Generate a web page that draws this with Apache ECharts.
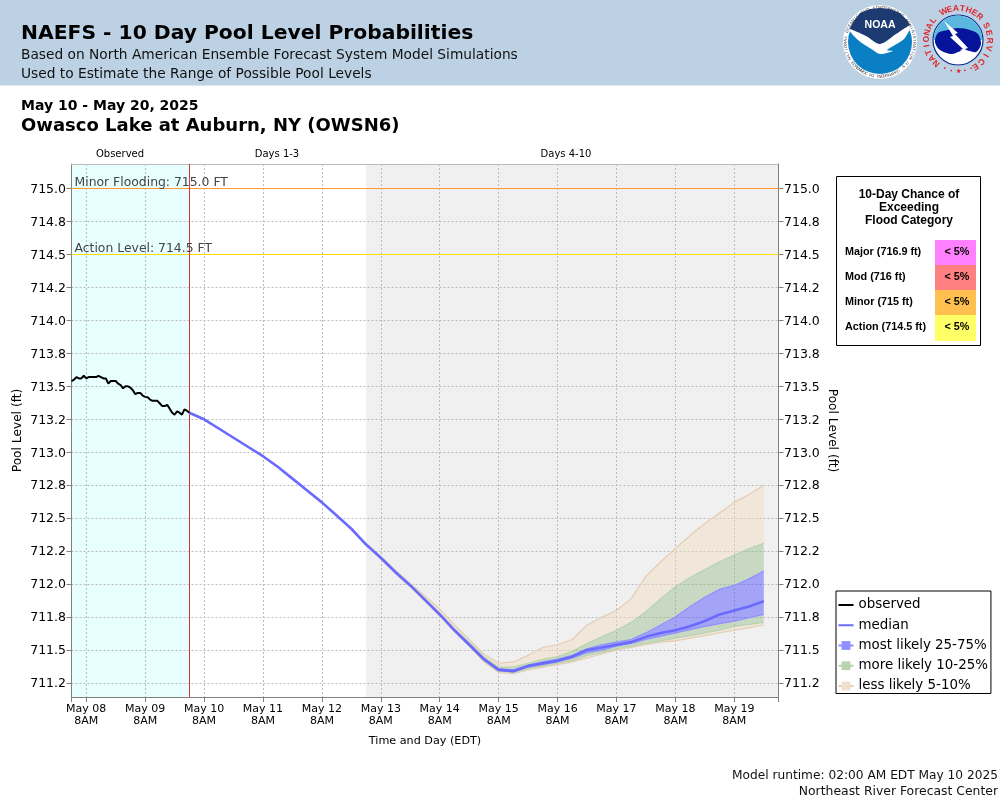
<!DOCTYPE html>
<html>
<head>
<meta charset="utf-8">
<title>NAEFS Pool Level Probabilities</title>
<script src="https://cdn.jsdelivr.net/npm/echarts@6/dist/echarts.min.js"></script>
<style>
html,body{margin:0;padding:0;background:#fff}
#main{width:1000px;height:800px}
</style>
</head>
<body>
<div id="main"></div>
<script>
// hours below are counted from May 08 8AM. The axis clock is shifted so that
// 8AM EDT falls on a UTC midnight and the daily time ticks land on 8AM.
var baseTime = Date.UTC(2025, 4, 8, 0);
var xMin = -6, xMax = 282;
var forecastStart = 42, daysFourStart = 114;
var xTickHours = [0, 24, 48, 72, 96, 120, 144, 168, 192, 216, 240, 264];
var xTickLabels = ['May 08\n8AM', 'May 09\n8AM', 'May 10\n8AM', 'May 11\n8AM', 'May 12\n8AM', 'May 13\n8AM',
	'May 14\n8AM', 'May 15\n8AM', 'May 16\n8AM', 'May 17\n8AM', 'May 18\n8AM', 'May 19\n8AM'];
var yMin = 711.144, yMax = 715.186;
var yTickValues = [711.25, 711.5, 711.75, 712, 712.25, 712.5, 712.75, 713, 713.25, 713.5, 713.75, 714, 714.25, 714.5, 714.75, 715];
var yTickLabels = ['711.2', '711.5', '711.8', '712.0', '712.2', '712.5', '712.8', '713.0', '713.2', '713.5', '713.8', '714.0', '714.2', '714.5', '714.8', '715.0'];
var minorLevel = 715, actionLevel = 714.5;

var obsHours = [-6, -5, -4, -3, -2, -1, 0, 1, 2, 3, 4, 5, 6, 7, 8, 9, 10, 11, 12, 13, 14, 15, 16, 17, 18, 19, 20, 21, 22, 23, 24,
	25, 26, 27, 28, 29, 30, 31, 32, 33, 34, 35, 36, 37, 38, 39, 40, 41, 42];
var observed = [713.54, 713.55, 713.57, 713.56, 713.56, 713.58, 713.56, 713.57, 713.57, 713.57, 713.57, 713.58, 713.57, 713.56, 713.56, 713.52,
	713.54, 713.54, 713.54, 713.52, 713.51, 713.485, 713.50, 713.50, 713.49, 713.47, 713.44, 713.45, 713.45, 713.43, 713.42, 713.417,
	713.40, 713.39, 713.39, 713.39, 713.37, 713.35, 713.35, 713.36, 713.33, 713.30, 713.285, 713.31, 713.30, 713.285, 713.325, 713.315, 713.30];

var fcstHours = [42, 48, 54, 60, 66, 72, 78, 84, 90, 96, 102, 108, 114, 120, 126, 132, 138, 144, 150, 156, 162, 168, 174, 180, 186, 192,
	198, 204, 210, 216, 222, 228, 234, 240, 246, 252, 258, 264, 270, 276];
var median = [713.30, 713.25, 713.18, 713.11, 713.04, 712.97, 712.89, 712.80, 712.71, 712.62, 712.52, 712.42, 712.30, 712.20, 712.09, 711.99, 711.88, 711.77, 711.65, 711.54,
	711.43, 711.35, 711.34, 711.38, 711.40, 711.42, 711.45, 711.50, 711.52, 711.54, 711.56, 711.60, 711.63, 711.65, 711.68, 711.72, 711.77, 711.80, 711.83, 711.87];
var p5 = [713.30, 713.25, 713.18, 713.11, 713.04, 712.97, 712.89, 712.80, 712.71, 712.62, 712.52, 712.42, 712.30, 712.19, 712.08, 711.98, 711.87, 711.76, 711.64, 711.53,
	711.41, 711.33, 711.32, 711.35, 711.37, 711.39, 711.41, 711.44, 711.47, 711.50, 711.52, 711.54, 711.56, 711.57, 711.59, 711.61, 711.63, 711.65, 711.67, 711.69];
var p10 = [713.30, 713.25, 713.18, 713.11, 713.04, 712.97, 712.89, 712.80, 712.71, 712.62, 712.52, 712.42, 712.30, 712.195, 712.085, 711.985, 711.875, 711.765, 711.645, 711.535,
	711.42, 711.34, 711.33, 711.36, 711.38, 711.40, 711.42, 711.46, 711.48, 711.51, 711.53, 711.55, 711.57, 711.59, 711.61, 711.63, 711.65, 711.68, 711.695, 711.71];
var p25 = [713.30, 713.25, 713.18, 713.11, 713.04, 712.97, 712.89, 712.80, 712.71, 712.62, 712.52, 712.42, 712.30, 712.20, 712.09, 711.99, 711.88, 711.77, 711.65, 711.54,
	711.43, 711.345, 711.335, 711.37, 711.39, 711.41, 711.44, 711.48, 711.50, 711.53, 711.55, 711.58, 711.605, 711.63, 711.655, 711.68, 711.70, 711.72, 711.745, 711.77];
var p75 = [713.30, 713.25, 713.18, 713.11, 713.04, 712.97, 712.89, 712.80, 712.71, 712.62, 712.52, 712.42, 712.30, 712.20, 712.09, 711.99, 711.88, 711.77, 711.65, 711.55,
	711.44, 711.36, 711.35, 711.385, 711.41, 711.43, 711.46, 711.51, 711.54, 711.56, 711.58, 711.63, 711.69, 711.75, 711.83, 711.90, 711.96, 711.99, 712.04, 712.10];
var p90 = [713.30, 713.25, 713.18, 713.11, 713.04, 712.97, 712.89, 712.80, 712.71, 712.62, 712.52, 712.42, 712.30, 712.205, 712.095, 711.995, 711.89, 711.78, 711.66, 711.56,
	711.45, 711.37, 711.37, 711.40, 711.43, 711.45, 711.49, 711.55, 711.60, 711.65, 711.71, 711.79, 711.89, 711.98, 712.05, 712.11, 712.17, 712.22, 712.27, 712.31];
var p95 = [713.30, 713.25, 713.18, 713.11, 713.04, 712.97, 712.89, 712.80, 712.71, 712.62, 712.52, 712.42, 712.31, 712.21, 712.105, 712.005, 711.91, 711.81, 711.69, 711.58,
	711.47, 711.40, 711.41, 711.46, 711.52, 711.54, 711.58, 711.69, 711.75, 711.80, 711.89, 712.06, 712.17, 712.27, 712.37, 712.46, 712.54, 712.62, 712.68, 712.75];

var chanceTitle = ['10-Day Chance of', 'Exceeding', 'Flood Category'];
var chanceRows = ['Major (716.9 ft)', 'Mod (716 ft)', 'Minor (715 ft)', 'Action (714.5 ft)'];
var chanceValues = ['< 5%', '< 5%', '< 5%', '< 5%'];
var chanceColors = ['#ff80ff', '#ff8080', '#ffc050', '#ffff66'];

var FONT = '"DejaVu Sans"';
var ARIAL = '"Liberation Sans"';
var TAN = 'rgba(240,215,185,0.4)', GREEN = 'rgba(130,175,120,0.37)', BLUE = 'rgba(70,70,255,0.45)';
var TAN_LINE = '#e3cdb4', GREEN_LINE = '#b9d3ae', BLUE_LINE = '#8f8fff';

function ms(h) {
	return baseTime + h * 3600000;
}
function pairs(xs, ys) {
	return xs.map(function (x, i) { return [ms(x), ys[i]]; });
}
// thickness of a band between two percentile lines
function diff(upper, lower) {
	return fcstHours.map(function (x, i) { return [ms(x), Math.max(0, +(upper[i] - lower[i]).toFixed(3))]; });
}
function bandSeries(name, data, fill, line) {
	return {
		name: name, type: 'line', stack: 'bands', data: data, symbol: 'rect', showSymbol: false, silent: true,
		z: 3, lineStyle: { color: line, width: 1.2 }, itemStyle: { color: line },
		areaStyle: fill ? { color: fill, opacity: 1 } : undefined
	};
}

var LESS = 'less likely 5-10%', MORE = 'more likely 10-25%', MOST = 'most likely 25-75%';
var series = [
	{
		// only carries the shaded day ranges
		name: 'shade', type: 'line', data: [], silent: true,
		markArea: {
			silent: true, z: -1,
			data: [
				[{ xAxis: ms(xMin), itemStyle: { color: '#e8ffff' } }, { xAxis: ms(forecastStart) }],
				[{ xAxis: ms(daysFourStart), itemStyle: { color: '#f0f0f0' } }, { xAxis: ms(xMax) }]
			]
		}
	},
	bandSeries(LESS, pairs(fcstHours, p5), null, TAN_LINE),
	bandSeries(LESS, diff(p10, p5), TAN, GREEN_LINE),
	bandSeries(MORE, diff(p25, p10), GREEN, BLUE_LINE),
	bandSeries(MOST, diff(p75, p25), BLUE, BLUE_LINE),
	bandSeries(MORE, diff(p90, p75), GREEN, GREEN_LINE),
	bandSeries(LESS, diff(p95, p90), TAN, TAN_LINE),
	{
		name: 'median', type: 'line', data: pairs(fcstHours, median), symbol: 'none', silent: true, z: 5,
		lineStyle: { color: '#6a6aff', width: 2.6 }, itemStyle: { color: '#6a6aff' }
	},
	{
		name: 'observed', type: 'line', data: pairs(obsHours, observed), symbol: 'none', silent: true, z: 6,
		lineStyle: { color: '#000', width: 2 }, itemStyle: { color: '#000' },
		markLine: {
			silent: true, symbol: 'none', animation: false,
			data: [
				{ yAxis: minorLevel, lineStyle: { color: '#ff9a2e', width: 1, type: 'solid' },
					label: { formatter: 'Minor Flooding: 715.0 FT', position: 'insideStartTop', distance: [3, 0], color: '#444', fontFamily: FONT, fontSize: 12.4 } },
				{ yAxis: actionLevel, lineStyle: { color: '#ffdd00', width: 1, type: 'solid' },
					label: { formatter: 'Action Level: 714.5 FT', position: 'insideStartTop', distance: [3, 0], color: '#444', fontFamily: FONT, fontSize: 12.4 } },
				{ xAxis: ms(forecastStart), lineStyle: { color: '#d9333a', width: 1, type: 'solid' }, label: { show: false } }
			]
		}
	}
];

// ---- page furniture ----
var graphics = [];
function txt(x, y, text, font, size, opt) {
	opt = opt || {};
	graphics.push({
		type: 'text', x: x, y: y, z: 20, rotation: opt.rotation || 0, silent: true,
		style: {
			text: text, x: 0, y: 0, fill: opt.color || '#000', font: (opt.bold ? 'bold ' : '') + size + 'px ' + font,
			align: opt.align || 'left', verticalAlign: 'middle'
		}
	});
}
function circle(cx, cy, r, fill, stroke, lw) {
	graphics.push({ type: 'circle', z: 15, silent: true, shape: { cx: cx, cy: cy, r: r }, style: { fill: fill, stroke: stroke || null, lineWidth: lw || 0 } });
}
function poly(points, fill, smooth) {
	graphics.push({ type: 'polygon', z: 16, silent: true, shape: { points: points, smooth: smooth || 0 }, style: { fill: fill } });
}
function ring(text, cx, cy, r, a0, a1, size, color, bold, flip) {
	// a0 and a1 are clock angles in degrees for the first and last letter
	for (var i = 0; i < text.length; i++) {
		var a = a0 + (a1 - a0) * i / (text.length - 1), rad = a * Math.PI / 180;
		txt(cx + r * Math.sin(rad), cy - r * Math.cos(rad), text[i], ARIAL, size, {
			rotation: -(flip ? rad - Math.PI : rad), align: 'center', color: color, bold: bold
		});
	}
}

graphics.push({ type: 'rect', z: 10, silent: true, shape: { x: 0, y: 0, width: 1000, height: 85.5 }, style: { fill: '#bcd2e4' } });
txt(21, 33.5, 'NAEFS - 10 Day Pool Level Probabilities', FONT, 20.3, { bold: true });
txt(21, 55, 'Based on North American Ensemble Forecast System Model Simulations', FONT, 13.75, { color: '#111' });
txt(21, 74, 'Used to Estimate the Range of Possible Pool Levels', FONT, 13.75, { color: '#111' });
txt(21, 106, 'May 10 - May 20, 2025', FONT, 14, { bold: true });
txt(21, 126, 'Owasco Lake at Auburn, NY (OWSN6)', FONT, 18, { bold: true });
txt(120, 154.5, 'Observed', FONT, 10, { align: 'center' });
txt(277, 154.5, 'Days 1-3', FONT, 10, { align: 'center' });
txt(566, 154.5, 'Days 4-10', FONT, 10, { align: 'center' });
txt(998, 776, 'Model runtime: 02:00 AM EDT May 10 2025', FONT, 12.2, { align: 'right', color: '#111' });
txt(998, 792, 'Northeast River Forecast Center', FONT, 12.4, { align: 'right', color: '#111' });
// light top border of the plot
graphics.push({ type: 'line', z: 4, silent: true, shape: { x1: 71, y1: 164.5, x2: 778, y2: 164.5 }, style: { stroke: '#bbb', lineWidth: 1 } });

// NOAA mark
var nx = 880, ny = 42;
circle(nx, ny, 37, '#fff');
ring('NATIONAL OCEANIC AND ATMOSPHERIC ADMINISTRATION', nx, ny, 34.5, -118, 118, 4, '#334', false);
ring('U.S. DEPARTMENT OF COMMERCE', nx, ny, 34.5, 128, 232, 4, '#334', false, true);
circle(nx, ny, 32, '#0a7fc4');
var navyEdge = [[849, 30], [853, 22], [860, 13], [870, 9], [880, 8], [890, 9], [900, 13], [907, 20], [911, 27], [896, 35], [880, 45], [866, 37]];
poly(navyEdge, '#1d3a73');
poly([[849, 29], [866, 36], [880, 44], [896, 34], [911, 25], [904, 39], [887, 50], [893, 51], [880, 54], [873, 50], [858, 40]], '#fff', 0.3);
txt(nx, 25, 'NOAA', ARIAL, 10.5, { bold: true, align: 'center', color: '#fff' });

// NWS mark
var wx = 958, wy = 40;
ring('NATIONAL', wx, wy, 31.5, -137, -52, 8.5, '#e0252b', true);
ring('WEATHER', wx, wy, 31.5, -27, 43, 8.5, '#e0252b', true);
ring('SERVICE', wx, wy, 31.5, 63, 147, 8.5, '#e0252b', true);
ring('\u2022\u2022\u2605\u2022\u2022', wx, wy, 31.5, 205, 155, 6, '#e0252b', true, true);
circle(wx, wy, 25, '#fff', '#0a2a8c', 1.2);
graphics.push({ type: 'sector', z: 15, silent: true, shape: { cx: wx, cy: wy, r: 24.4, startAngle: Math.PI, endAngle: 2 * Math.PI }, style: { fill: '#5cb7de' } });
poly([[935, 42], [938, 33], [948, 30], [958, 28], [970, 30], [978, 34], [981, 44], [976, 52], [964, 50], [952, 54], [940, 50]], '#06149c', 0.3);
poly([[944, 21], [958, 33], [955, 34], [968, 48], [965, 49], [975, 58], [960, 50], [963, 49], [950, 37], [953, 36]], '#fff');

// chance table
graphics.push({ type: 'rect', z: 15, silent: true, shape: { x: 836.5, y: 176.5, width: 144, height: 169 }, style: { fill: '#fff', stroke: '#000', lineWidth: 1 } });
chanceTitle.forEach(function (line, i) {
	txt(909, 195 + i * 13, line, ARIAL, 12, { bold: true, align: 'center' });
});
chanceRows.forEach(function (label, i) {
	var top = 240 + i * 25;
	graphics.push({ type: 'rect', z: 16, silent: true, shape: { x: 935, y: top, width: 41, height: i === 3 ? 26 : 25 }, style: { fill: chanceColors[i] } });
	txt(845, top + 12, label, ARIAL, 10.8, { bold: true });
	txt(957, top + 12, chanceValues[i], ARIAL, 10.8, { bold: true, align: 'center' });
});

var myChart = echarts.init(document.getElementById('main'), null, { renderer: 'canvas' });
var option = {
	animation: false,
	useUTC: true,
	backgroundColor: '#fff',
	grid: { left: 71.5, top: 164, width: 707, height: 533, show: false, outerBoundsMode: 'none' },
	legend: {
		orient: 'vertical', left: 836, top: 591, padding: [7.5, 3, 1, 1.5], itemGap: 7.25, itemWidth: 15, itemHeight: 11,
		backgroundColor: '#fff', borderColor: '#000', borderWidth: 1, borderRadius: 0, selectedMode: false,
		textStyle: { fontFamily: FONT, fontSize: 13.4, color: '#000' },
		data: [
			{ name: 'observed', lineStyle: { width: 2 }, itemStyle: { opacity: 0 } },
			{ name: 'median', lineStyle: { width: 2 }, itemStyle: { opacity: 0 } },
			{ name: MOST, lineStyle: { color: BLUE_LINE, width: 2 }, itemStyle: { color: '#8f8fff' } },
			{ name: MORE, lineStyle: { color: GREEN_LINE, width: 2 }, itemStyle: { color: '#b9d3ae' } },
			{ name: LESS, lineStyle: { color: TAN_LINE, width: 2 }, itemStyle: { color: '#efdfcd' } }
		]
	},
	xAxis: {
		type: 'time', min: ms(xMin), max: ms(xMax), minInterval: 86400000, maxInterval: 86400000,
		name: 'Time and Day (EDT)', nameLocation: 'middle', nameGap: 39, nameMoveOverlap: false,
		nameTextStyle: { fontFamily: FONT, fontSize: 11.2, color: '#000' },
		axisLine: { show: true, onZero: false, lineStyle: { color: '#808080', width: 1 } },
		axisTick: { show: true, length: 5, lineStyle: { color: '#808080' } },
		axisLabel: {
			margin: 6, color: '#000', fontFamily: FONT, fontSize: 11, lineHeight: 12, hideOverlap: false,
			showMinLabel: true, showMaxLabel: true,
			formatter: function (v) { return xTickLabels[xTickHours.indexOf((v - baseTime) / 3600000)] || ''; }
		},
		splitLine: { show: true, showMinLine: false, showMaxLine: false, lineStyle: { color: '#bbb', type: [2, 2], width: 1 } }
	},
	yAxis: [0, 1].map(function (k) {
		return {
			type: 'value', min: yMin, max: yMax, position: k ? 'right' : 'left',
			name: 'Pool Level (ft)', nameLocation: 'middle', nameGap: 47.5, nameRotate: k ? -90 : 90, nameMoveOverlap: false,
			nameTextStyle: { fontFamily: FONT, fontSize: 12.2, color: '#000' },
			axisLine: { show: true, onZero: false, lineStyle: { color: '#808080', width: 1 } },
			axisTick: { show: true, length: 5, customValues: yTickValues, lineStyle: { color: '#808080' } },
			axisLabel: {
				customValues: yTickValues, margin: 5.5, color: '#000', fontFamily: FONT, fontSize: 12.5, verticalAlign: 'top', lineHeight: 2,
				formatter: function (v) { return yTickLabels[yTickValues.indexOf(v)] || ''; }
			},
			splitLine: { show: k === 0, lineStyle: { color: '#bbb', type: [2, 2], width: 1 } }
		};
	}),
	graphic: { elements: graphics },
	series: series
};
myChart.setOption(option);
</script>
</body>
</html>
